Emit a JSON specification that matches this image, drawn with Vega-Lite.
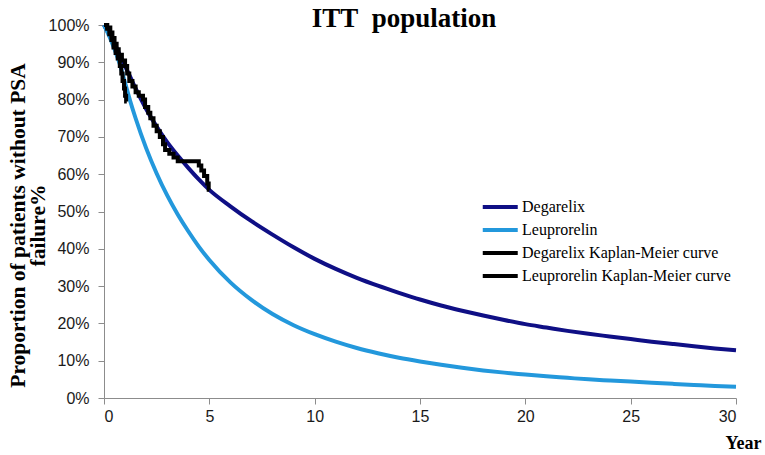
{
  "$schema": "https://vega.github.io/schema/vega-lite/v6.json",
  "description": "ITT population - proportion of patients without PSA failure",
  "autosize": {"type": "none"},
  "width": 632,
  "height": 373,
  "padding": {"left": 104, "top": 25, "right": 29, "bottom": 57},
  "background": "white",
  "title": {
    "text": "ITT\u00a0\u00a0population",
    "font": "Liberation Serif",
    "fontSize": 27,
    "fontWeight": "bold",
    "color": "black",
    "anchor": "middle",
    "baseline": "alphabetic",
    "offset": 0,
    "dx": -16,
    "dy": 37
  },
  "datasets": {
    "fits": [
      {"series": "Degarelix", "t": 0, "s": 100},
      {"series": "Degarelix", "t": 0.25, "s": 97.5},
      {"series": "Degarelix", "t": 0.5, "s": 95},
      {"series": "Degarelix", "t": 0.75, "s": 92},
      {"series": "Degarelix", "t": 1, "s": 89},
      {"series": "Degarelix", "t": 1.25, "s": 86},
      {"series": "Degarelix", "t": 1.5, "s": 83},
      {"series": "Degarelix", "t": 2, "s": 77.5},
      {"series": "Degarelix", "t": 2.5, "s": 72.8},
      {"series": "Degarelix", "t": 3, "s": 68.6},
      {"series": "Degarelix", "t": 3.5, "s": 65},
      {"series": "Degarelix", "t": 4, "s": 61.7},
      {"series": "Degarelix", "t": 4.5, "s": 58.6},
      {"series": "Degarelix", "t": 5, "s": 55.8},
      {"series": "Degarelix", "t": 6, "s": 51.4},
      {"series": "Degarelix", "t": 7, "s": 47.4},
      {"series": "Degarelix", "t": 8, "s": 43.8},
      {"series": "Degarelix", "t": 9, "s": 40.4},
      {"series": "Degarelix", "t": 10, "s": 37.3},
      {"series": "Degarelix", "t": 11, "s": 34.6},
      {"series": "Degarelix", "t": 12, "s": 32.2},
      {"series": "Degarelix", "t": 13, "s": 30.1},
      {"series": "Degarelix", "t": 14, "s": 28.2},
      {"series": "Degarelix", "t": 15, "s": 26.4},
      {"series": "Degarelix", "t": 16, "s": 24.8},
      {"series": "Degarelix", "t": 17, "s": 23.4},
      {"series": "Degarelix", "t": 18, "s": 22.1},
      {"series": "Degarelix", "t": 19, "s": 20.9},
      {"series": "Degarelix", "t": 20, "s": 19.8},
      {"series": "Degarelix", "t": 21, "s": 18.9},
      {"series": "Degarelix", "t": 22, "s": 18},
      {"series": "Degarelix", "t": 23, "s": 17.2},
      {"series": "Degarelix", "t": 24, "s": 16.5},
      {"series": "Degarelix", "t": 25, "s": 15.8},
      {"series": "Degarelix", "t": 26, "s": 15.1},
      {"series": "Degarelix", "t": 27, "s": 14.5},
      {"series": "Degarelix", "t": 28, "s": 13.9},
      {"series": "Degarelix", "t": 29, "s": 13.3},
      {"series": "Degarelix", "t": 30, "s": 12.8},
      {"series": "Leuprorelin", "t": 0, "s": 100},
      {"series": "Leuprorelin", "t": 0.25, "s": 97},
      {"series": "Leuprorelin", "t": 0.5, "s": 93.5},
      {"series": "Leuprorelin", "t": 0.75, "s": 89.5},
      {"series": "Leuprorelin", "t": 1, "s": 84.5},
      {"series": "Leuprorelin", "t": 1.25, "s": 79.5},
      {"series": "Leuprorelin", "t": 1.5, "s": 75},
      {"series": "Leuprorelin", "t": 2, "s": 67},
      {"series": "Leuprorelin", "t": 2.5, "s": 60.2},
      {"series": "Leuprorelin", "t": 3, "s": 54.3},
      {"series": "Leuprorelin", "t": 3.5, "s": 49.2},
      {"series": "Leuprorelin", "t": 4, "s": 44.7},
      {"series": "Leuprorelin", "t": 4.5, "s": 40.6},
      {"series": "Leuprorelin", "t": 5, "s": 37},
      {"series": "Leuprorelin", "t": 6, "s": 31},
      {"series": "Leuprorelin", "t": 7, "s": 26.3},
      {"series": "Leuprorelin", "t": 8, "s": 22.5},
      {"series": "Leuprorelin", "t": 9, "s": 19.5},
      {"series": "Leuprorelin", "t": 10, "s": 17.1},
      {"series": "Leuprorelin", "t": 11, "s": 15.1},
      {"series": "Leuprorelin", "t": 12, "s": 13.4},
      {"series": "Leuprorelin", "t": 13, "s": 12},
      {"series": "Leuprorelin", "t": 14, "s": 10.8},
      {"series": "Leuprorelin", "t": 15, "s": 9.8},
      {"series": "Leuprorelin", "t": 16, "s": 8.9},
      {"series": "Leuprorelin", "t": 17, "s": 8.1},
      {"series": "Leuprorelin", "t": 18, "s": 7.4},
      {"series": "Leuprorelin", "t": 19, "s": 6.8},
      {"series": "Leuprorelin", "t": 20, "s": 6.3},
      {"series": "Leuprorelin", "t": 21, "s": 5.8},
      {"series": "Leuprorelin", "t": 22, "s": 5.4},
      {"series": "Leuprorelin", "t": 23, "s": 5},
      {"series": "Leuprorelin", "t": 24, "s": 4.7},
      {"series": "Leuprorelin", "t": 25, "s": 4.4},
      {"series": "Leuprorelin", "t": 26, "s": 4.1},
      {"series": "Leuprorelin", "t": 27, "s": 3.8},
      {"series": "Leuprorelin", "t": 28, "s": 3.5},
      {"series": "Leuprorelin", "t": 29, "s": 3.2},
      {"series": "Leuprorelin", "t": 30, "s": 3}
    ],
    "km": [
      {"series": "Degarelix Kaplan-Meier curve", "t": 0, "s": 100},
      {"series": "Degarelix Kaplan-Meier curve", "t": 0.15, "s": 99.3},
      {"series": "Degarelix Kaplan-Meier curve", "t": 0.3, "s": 98},
      {"series": "Degarelix Kaplan-Meier curve", "t": 0.4, "s": 96.5},
      {"series": "Degarelix Kaplan-Meier curve", "t": 0.5, "s": 95},
      {"series": "Degarelix Kaplan-Meier curve", "t": 0.6, "s": 93.5},
      {"series": "Degarelix Kaplan-Meier curve", "t": 0.7, "s": 92},
      {"series": "Degarelix Kaplan-Meier curve", "t": 0.85, "s": 90.5},
      {"series": "Degarelix Kaplan-Meier curve", "t": 1, "s": 89},
      {"series": "Degarelix Kaplan-Meier curve", "t": 1.1, "s": 87},
      {"series": "Degarelix Kaplan-Meier curve", "t": 1.2, "s": 85},
      {"series": "Degarelix Kaplan-Meier curve", "t": 1.35, "s": 83.5},
      {"series": "Degarelix Kaplan-Meier curve", "t": 1.5, "s": 82},
      {"series": "Degarelix Kaplan-Meier curve", "t": 1.65, "s": 81},
      {"series": "Degarelix Kaplan-Meier curve", "t": 1.85, "s": 80},
      {"series": "Degarelix Kaplan-Meier curve", "t": 1.95, "s": 78},
      {"series": "Degarelix Kaplan-Meier curve", "t": 2.1, "s": 76.5},
      {"series": "Degarelix Kaplan-Meier curve", "t": 2.2, "s": 75},
      {"series": "Degarelix Kaplan-Meier curve", "t": 2.35, "s": 73},
      {"series": "Degarelix Kaplan-Meier curve", "t": 2.5, "s": 71.5},
      {"series": "Degarelix Kaplan-Meier curve", "t": 2.65, "s": 70},
      {"series": "Degarelix Kaplan-Meier curve", "t": 2.8, "s": 68},
      {"series": "Degarelix Kaplan-Meier curve", "t": 2.9, "s": 66.5},
      {"series": "Degarelix Kaplan-Meier curve", "t": 3.1, "s": 65.5},
      {"series": "Degarelix Kaplan-Meier curve", "t": 3.3, "s": 64.5},
      {"series": "Degarelix Kaplan-Meier curve", "t": 3.5, "s": 63.5},
      {"series": "Degarelix Kaplan-Meier curve", "t": 4.5, "s": 62.3},
      {"series": "Degarelix Kaplan-Meier curve", "t": 4.62, "s": 61},
      {"series": "Degarelix Kaplan-Meier curve", "t": 4.75, "s": 59.5},
      {"series": "Degarelix Kaplan-Meier curve", "t": 4.9, "s": 57.5},
      {"series": "Degarelix Kaplan-Meier curve", "t": 4.97, "s": 55.8},
      {"series": "Degarelix Kaplan-Meier curve", "t": 5, "s": 55.8},
      {"series": "Leuprorelin Kaplan-Meier curve", "t": 0, "s": 100},
      {"series": "Leuprorelin Kaplan-Meier curve", "t": 0.15, "s": 99},
      {"series": "Leuprorelin Kaplan-Meier curve", "t": 0.25, "s": 97.5},
      {"series": "Leuprorelin Kaplan-Meier curve", "t": 0.35, "s": 96},
      {"series": "Leuprorelin Kaplan-Meier curve", "t": 0.45, "s": 94},
      {"series": "Leuprorelin Kaplan-Meier curve", "t": 0.55, "s": 92.5},
      {"series": "Leuprorelin Kaplan-Meier curve", "t": 0.65, "s": 91},
      {"series": "Leuprorelin Kaplan-Meier curve", "t": 0.75, "s": 89},
      {"series": "Leuprorelin Kaplan-Meier curve", "t": 0.82, "s": 87},
      {"series": "Leuprorelin Kaplan-Meier curve", "t": 0.88, "s": 85},
      {"series": "Leuprorelin Kaplan-Meier curve", "t": 0.95, "s": 83},
      {"series": "Leuprorelin Kaplan-Meier curve", "t": 1, "s": 81},
      {"series": "Leuprorelin Kaplan-Meier curve", "t": 1.05, "s": 79.5},
      {"series": "Leuprorelin Kaplan-Meier curve", "t": 1.08, "s": 79.5}
    ]
  },
  "encoding": {
    "x": {
      "field": "t",
      "type": "quantitative",
      "scale": {"domain": [0, 30], "nice": false},
      "axis": {
        "title": "Year",
        "values": [0, 5, 10, 15, 20, 25, 30],
        "grid": false,
        "titleX": 657,
        "titleY": 50,
        "titleAlign": "right",
        "titleAnchor": null,
        "titleBaseline": "alphabetic"
      }
    },
    "y": {
      "field": "s",
      "type": "quantitative",
      "scale": {"domain": [0, 100], "nice": false},
      "axis": {
        "title": ["Proportion of patients without PSA", "failure%"],
        "values": [0, 10, 20, 30, 40, 50, 60, 70, 80, 90, 100],
        "labelExpr": "datum.value + '%'",
        "grid": false,
        "titleX": -97,
        "titleY": 200,
        "titleAngle": -90,
        "titleAlign": "center",
        "titleBaseline": "top",
        "titleFontSize": 21.5,
        "titleLineHeight": 20
      }
    },
    "color": {
      "field": "series",
      "type": "nominal",
      "scale": {
        "domain": ["Degarelix", "Leuprorelin", "Degarelix Kaplan-Meier curve", "Leuprorelin Kaplan-Meier curve"],
        "range": ["#0f0f85", "#2398dc", "#000000", "#000000"]
      },
      "legend": {
        "title": null,
        "orient": "none",
        "legendX": 394,
        "legendY": 171,
        "symbolType": "M-3,0H1",
        "symbolSize": 306,
        "symbolStrokeWidth": 4,
        "labelOffset": 2,
        "labelFont": "Liberation Serif",
        "labelFontSize": 16,
        "labelColor": "black",
        "labelLimit": 400,
        "rowPadding": 4
      }
    }
  },
  "layer": [
    {
      "data": {"name": "fits"},
      "mark": {"type": "line", "strokeWidth": 4, "interpolate": "monotone"}
    },
    {
      "data": {"name": "km"},
      "mark": {"type": "line", "strokeWidth": 4, "interpolate": "step-after"}
    }
  ],
  "config": {
    "view": {"stroke": null},
    "axis": {
      "domainColor": "#8c8c8c",
      "tickColor": "#8c8c8c",
      "tickSize": 6,
      "labelFont": "Liberation Sans",
      "labelFontSize": 16,
      "labelColor": "#1a1a1a",
      "titleFont": "Liberation Serif",
      "titleFontSize": 20,
      "titleFontWeight": "bold",
      "titleColor": "black"
    },
    "axisY": {"labelPadding": 9},
    "axisX": {"labelPadding": 4, "titleFontSize": 18}
  }
}
